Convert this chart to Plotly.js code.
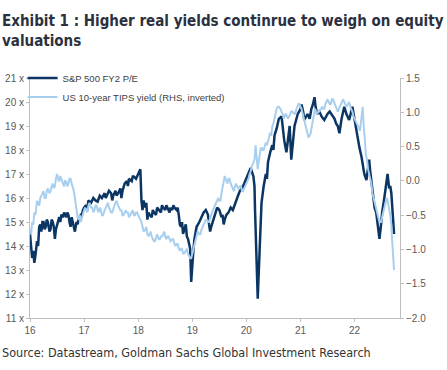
<!DOCTYPE html>
<html>
<head>
<meta charset="utf-8">
<script src="https://cdn.plot.ly/plotly-3.0.1.min.js"></script>
<style>html,body{margin:0;padding:0;background:#fff;}#chart{width:447px;height:370px;}</style>
</head>
<body>
<div id="chart"></div>
<script>
// S&P 500 FY2 P/E (left axis, x multiple)
const peDates = [2016.00,2016.02,2016.04,2016.06,2016.08,2016.10,2016.13,2016.15,2016.17,2016.19,2016.21,2016.23,2016.25,2016.27,2016.29,2016.31,2016.33,2016.36,2016.38,2016.40,2016.42,2016.44,2016.46,2016.48,2016.50,2016.52,2016.54,2016.56,2016.58,2016.61,2016.63,2016.65,2016.67,2016.69,2016.71,2016.73,2016.75,2016.77,2016.79,2016.81,2016.83,2016.86,2016.88,2016.90,2016.92,2016.94,2016.96,2016.98,2017.00,2017.04,2017.06,2017.08,2017.13,2017.17,2017.21,2017.25,2017.27,2017.29,2017.33,2017.38,2017.40,2017.42,2017.46,2017.50,2017.52,2017.54,2017.58,2017.60,2017.63,2017.67,2017.69,2017.71,2017.75,2017.79,2017.81,2017.83,2017.88,2017.90,2017.92,2017.96,2018.00,2018.02,2018.04,2018.06,2018.08,2018.10,2018.13,2018.15,2018.17,2018.19,2018.21,2018.25,2018.27,2018.29,2018.33,2018.35,2018.38,2018.42,2018.44,2018.46,2018.50,2018.52,2018.54,2018.58,2018.60,2018.63,2018.65,2018.67,2018.71,2018.73,2018.75,2018.77,2018.79,2018.81,2018.83,2018.85,2018.88,2018.90,2018.92,2018.94,2018.96,2018.98,2019.00,2019.02,2019.04,2019.06,2019.08,2019.13,2019.17,2019.21,2019.25,2019.29,2019.31,2019.33,2019.35,2019.38,2019.42,2019.46,2019.50,2019.54,2019.56,2019.58,2019.60,2019.63,2019.67,2019.71,2019.75,2019.79,2019.83,2019.88,2019.92,2019.96,2020.00,2020.04,2020.08,2020.13,2020.15,2020.16,2020.18,2020.20,2020.21,2020.22,2020.23,2020.25,2020.28,2020.32,2020.36,2020.38,2020.40,2020.44,2020.48,2020.50,2020.52,2020.56,2020.60,2020.65,2020.68,2020.70,2020.74,2020.77,2020.80,2020.83,2020.86,2020.89,2020.95,2021.00,2021.02,2021.05,2021.07,2021.10,2021.13,2021.17,2021.20,2021.23,2021.26,2021.28,2021.31,2021.35,2021.39,2021.44,2021.47,2021.50,2021.54,2021.59,2021.63,2021.66,2021.69,2021.72,2021.76,2021.81,2021.85,2021.90,2021.93,2021.96,2021.99,2022.03,2022.06,2022.09,2022.13,2022.16,2022.18,2022.22,2022.25,2022.27,2022.29,2022.31,2022.34,2022.37,2022.40,2022.43,2022.46,2022.49,2022.51,2022.55,2022.59,2022.61,2022.64,2022.66,2022.68,2022.70,2022.73];
const peValues = [14.5,13.9,13.5,13.8,13.3,13.6,14.2,14.0,14.8,14.9,14.6,15.0,15.0,14.7,14.8,15.1,15.0,14.6,14.7,15.1,15.0,14.8,14.3,14.7,14.9,15.1,15.2,15.0,15.3,15.2,15.4,15.3,15.2,15.4,15.3,15.0,14.8,15.2,15.0,14.7,14.6,15.0,14.9,15.2,15.1,15.3,15.3,15.5,15.6,15.7,15.5,15.9,15.8,16.0,15.9,15.85,16.0,16.1,16.0,16.2,16.0,16.1,16.3,16.2,15.9,16.1,16.3,16.1,16.2,16.4,16.0,16.3,16.6,16.7,16.5,16.8,16.7,16.9,16.9,16.8,17.0,17.1,17.2,15.9,15.5,15.9,15.6,15.8,15.1,15.4,15.3,15.2,15.5,15.4,15.3,15.6,15.5,15.4,15.7,15.6,15.5,15.7,15.6,15.4,15.6,15.5,15.7,15.6,15.5,15.6,15.3,14.9,14.8,15.0,14.5,14.7,14.9,14.4,14.3,14.1,13.9,12.5,13.4,13.8,14.3,14.5,14.8,15.0,15.2,15.4,15.5,15.3,14.9,14.6,14.8,15.0,15.3,15.6,15.5,15.2,15.3,14.9,15.1,15.3,15.4,15.6,15.5,15.8,16.0,16.3,16.4,16.6,16.8,17.0,17.25,16.9,16.5,15.5,13.5,12.5,11.8,12.4,13.0,14.5,15.8,16.5,17.0,16.8,17.5,17.9,18.2,18.0,18.6,18.9,19.3,19.4,18.8,18.4,17.9,18.6,19.0,17.6,18.5,19.0,19.5,19.7,19.9,19.6,19.25,19.4,19.5,19.3,19.7,19.9,20.2,19.8,19.5,19.6,19.4,19.25,19.4,19.5,19.6,19.4,19.3,19.1,19.0,18.7,19.3,19.8,19.5,19.25,19.5,19.8,19.4,18.8,18.4,18.1,17.7,17.3,17.0,16.75,17.2,17.6,17.1,16.75,16.2,15.6,15.4,14.8,14.3,14.9,15.4,16.0,16.75,17.0,16.4,16.5,16.2,15.4,14.5];

// US 10-year TIPS yield, inverted (right axis, %)
const tipsDates = [2016.00,2016.02,2016.04,2016.06,2016.08,2016.10,2016.13,2016.15,2016.17,2016.19,2016.21,2016.23,2016.25,2016.27,2016.29,2016.31,2016.33,2016.36,2016.38,2016.40,2016.42,2016.44,2016.46,2016.48,2016.50,2016.52,2016.54,2016.56,2016.58,2016.61,2016.63,2016.65,2016.67,2016.69,2016.71,2016.73,2016.75,2016.77,2016.79,2016.81,2016.83,2016.85,2016.86,2016.88,2016.90,2016.92,2016.94,2016.96,2016.98,2017.00,2017.02,2017.04,2017.06,2017.08,2017.10,2017.13,2017.15,2017.17,2017.19,2017.21,2017.23,2017.25,2017.27,2017.29,2017.31,2017.33,2017.35,2017.38,2017.40,2017.42,2017.44,2017.46,2017.48,2017.50,2017.52,2017.54,2017.56,2017.58,2017.60,2017.63,2017.65,2017.67,2017.69,2017.71,2017.73,2017.75,2017.77,2017.79,2017.81,2017.83,2017.85,2017.88,2017.90,2017.92,2017.94,2017.96,2017.98,2018.00,2018.02,2018.04,2018.06,2018.08,2018.10,2018.13,2018.15,2018.17,2018.19,2018.21,2018.23,2018.25,2018.27,2018.29,2018.31,2018.33,2018.35,2018.38,2018.40,2018.42,2018.44,2018.46,2018.48,2018.50,2018.52,2018.54,2018.56,2018.58,2018.60,2018.63,2018.65,2018.67,2018.69,2018.71,2018.73,2018.75,2018.77,2018.79,2018.81,2018.83,2018.85,2018.88,2018.90,2018.92,2018.94,2018.96,2018.98,2019.00,2019.02,2019.04,2019.06,2019.08,2019.10,2019.13,2019.15,2019.17,2019.19,2019.21,2019.23,2019.25,2019.27,2019.29,2019.31,2019.33,2019.35,2019.38,2019.40,2019.42,2019.44,2019.46,2019.48,2019.50,2019.52,2019.54,2019.56,2019.58,2019.60,2019.63,2019.65,2019.67,2019.69,2019.71,2019.73,2019.75,2019.77,2019.79,2019.81,2019.83,2019.85,2019.88,2019.90,2019.92,2019.94,2019.96,2019.98,2020.00,2020.02,2020.04,2020.06,2020.08,2020.10,2020.13,2020.15,2020.17,2020.18,2020.19,2020.21,2020.22,2020.24,2020.26,2020.28,2020.30,2020.32,2020.34,2020.36,2020.38,2020.40,2020.42,2020.44,2020.46,2020.48,2020.50,2020.52,2020.54,2020.56,2020.58,2020.60,2020.63,2020.65,2020.67,2020.69,2020.71,2020.73,2020.75,2020.77,2020.79,2020.81,2020.83,2020.85,2020.88,2020.90,2020.92,2020.94,2020.96,2020.98,2021.00,2021.02,2021.04,2021.06,2021.08,2021.10,2021.13,2021.15,2021.17,2021.19,2021.21,2021.23,2021.25,2021.27,2021.29,2021.31,2021.33,2021.35,2021.38,2021.40,2021.42,2021.44,2021.46,2021.48,2021.50,2021.52,2021.54,2021.56,2021.58,2021.60,2021.63,2021.65,2021.67,2021.69,2021.71,2021.73,2021.75,2021.77,2021.79,2021.81,2021.83,2021.85,2021.88,2021.90,2021.92,2021.94,2021.96,2021.98,2022.00,2022.02,2022.04,2022.06,2022.08,2022.10,2022.12,2022.14,2022.15,2022.17,2022.18,2022.20,2022.21,2022.23,2022.25,2022.27,2022.29,2022.31,2022.33,2022.35,2022.37,2022.39,2022.41,2022.43,2022.45,2022.47,2022.49,2022.51,2022.53,2022.55,2022.56,2022.58,2022.60,2022.62,2022.63,2022.65,2022.66,2022.68,2022.69,2022.71,2022.72,2022.73];
const tipsValues = [-0.71,-0.78,-0.60,-0.64,-0.46,-0.50,-0.29,-0.32,-0.36,-0.25,-0.22,-0.18,-0.15,-0.25,-0.25,-0.15,-0.11,-0.18,-0.15,-0.08,-0.04,-0.11,-0.08,0.03,0.10,0.03,-0.01,0.07,0.03,-0.04,-0.08,0.00,-0.01,-0.08,-0.04,0.03,0.03,-0.04,-0.08,-0.15,-0.25,-0.39,-0.46,-0.53,-0.57,-0.50,-0.60,-0.53,-0.50,-0.43,-0.39,-0.43,-0.46,-0.36,-0.32,-0.39,-0.39,-0.46,-0.43,-0.36,-0.36,-0.43,-0.46,-0.39,-0.43,-0.50,-0.50,-0.43,-0.39,-0.36,-0.32,-0.39,-0.43,-0.46,-0.46,-0.39,-0.36,-0.32,-0.29,-0.36,-0.39,-0.43,-0.43,-0.50,-0.50,-0.46,-0.43,-0.46,-0.46,-0.53,-0.50,-0.46,-0.43,-0.50,-0.50,-0.46,-0.46,-0.50,-0.53,-0.57,-0.60,-0.67,-0.74,-0.71,-0.67,-0.78,-0.81,-0.78,-0.74,-0.81,-0.85,-0.88,-0.88,-0.81,-0.78,-0.85,-0.85,-0.81,-0.81,-0.78,-0.74,-0.81,-0.85,-0.81,-0.81,-0.85,-0.88,-0.85,-0.85,-0.92,-0.95,-0.92,-0.92,-0.99,-1.02,-0.99,-0.99,-1.06,-1.06,-1.02,-0.99,-1.06,-1.09,-1.13,-1.13,-1.06,-1.02,-0.95,-0.88,-0.81,-0.74,-0.78,-0.78,-0.71,-0.67,-0.64,-0.60,-0.57,-0.57,-0.60,-0.60,-0.53,-0.50,-0.43,-0.39,-0.36,-0.32,-0.29,-0.25,-0.29,-0.29,-0.18,-0.08,0.03,0.07,0.00,-0.04,0.03,0.03,-0.04,-0.08,-0.11,-0.15,-0.08,-0.04,-0.08,-0.11,-0.08,-0.08,-0.15,-0.15,-0.11,-0.08,-0.04,-0.01,0.03,0.10,0.14,0.21,0.28,0.31,0.52,0.45,0.31,0.17,0.24,0.38,0.45,0.49,0.45,0.45,0.52,0.56,0.52,0.59,0.63,0.70,0.66,0.80,0.84,0.94,0.98,1.05,1.08,1.08,1.05,1.01,0.98,0.91,0.94,0.98,0.94,0.91,0.94,0.98,1.01,1.01,0.98,0.98,1.05,1.08,1.12,1.12,1.08,1.05,0.98,0.91,0.84,0.77,0.70,0.63,0.66,0.70,0.80,0.87,0.98,1.05,1.01,0.98,1.01,1.01,1.05,1.08,1.05,1.05,1.12,1.15,1.19,1.15,1.12,1.12,1.19,1.19,1.12,1.08,1.05,1.01,1.05,1.08,1.12,1.15,1.19,1.15,1.12,1.08,1.12,1.15,1.08,1.05,1.01,0.94,0.91,0.87,0.84,0.80,0.77,0.73,0.84,0.98,1.08,0.80,0.63,0.49,0.38,0.31,0.17,0.10,0.03,-0.04,-0.18,-0.25,-0.32,-0.39,-0.46,-0.50,-0.57,-0.60,-0.60,-0.53,-0.46,-0.39,-0.32,-0.29,-0.25,-0.36,-0.39,-0.46,-0.50,-0.64,-0.81,-1.02,-1.20,-1.30];

const yearTicks = [2016,2017,2018,2019,2020,2021,2022];
const yearLabels = ['16','17','18','19','20','21','22'];
const names = ['S&P 500 FY2 P/E','US 10-year TIPS yield (RHS, inverted)'];

const titleText = '<b>Exhibit 1 : Higher real yields continrue to weigh on equity<br>valuations</b>';
const sourceText = 'Source: Datastream, Goldman Sachs Global Investment Research';

const narrow = '"DejaVu Sans Condensed", "Liberation Sans Narrow", Roboto, sans-serif';
const tickFont = {family: '"Liberation Sans", Arial, sans-serif', size: 10, color: '#595959'};

const traces = [
  {x: tipsDates, y: tipsValues, yaxis: 'y2', type: 'scatter', mode: 'lines', name: names[1],
   line: {color: '#a9cfee', width: 2}},
  {x: peDates, y: peValues, yaxis: 'y', type: 'scatter', mode: 'lines', name: names[0],
   line: {color: '#0b3563', width: 2.5}}
];

const layout = {
  width: 447, height: 370,
  margin: {l: 30, r: 47, t: 78, b: 52},
  paper_bgcolor: '#fff', plot_bgcolor: '#fff',
  showlegend: true,
  legend: {x: -0.02, y: 1.06, xanchor: 'left', yanchor: 'top', traceorder: 'reversed',
    bgcolor: 'rgba(0,0,0,0)', font: {family: '"Liberation Sans", Arial, sans-serif', size: 9.5, color: '#404040'},
    itemwidth: 30, tracegroupgap: 0},
  xaxis: {range: [2016, 2022.84], tickvals: yearTicks, ticktext: yearLabels, showgrid: false, zeroline: false,
    showline: true, linecolor: '#bfbfbf', linewidth: 1, ticks: 'outside', ticklen: 3, tickcolor: '#bfbfbf',
    tickfont: tickFont},
  yaxis: {range: [11, 21], dtick: 1, ticksuffix: ' x', showgrid: false, zeroline: false,
    showline: true, linecolor: '#bfbfbf', linewidth: 1, ticks: 'outside', ticklen: 3, tickcolor: '#bfbfbf',
    tickfont: tickFont},
  yaxis2: {range: [-2, 1.5], dtick: 0.5, tickformat: '.1f', overlaying: 'y', side: 'right', showgrid: false, zeroline: false,
    showline: true, linecolor: '#bfbfbf', linewidth: 1, ticks: 'outside', ticklen: 3, tickcolor: '#bfbfbf',
    tickfont: tickFont},
  annotations: [
    {text: titleText, xref: 'paper', yref: 'paper', x: -0.081, y: 1.285, xanchor: 'left', yanchor: 'top', align: 'left',
     showarrow: false, font: {family: narrow, size: 15, color: '#2b3140'}},
    {text: sourceText, xref: 'paper', yref: 'paper', x: -0.081, y: -0.105, xanchor: 'left', yanchor: 'top', showarrow: false,
     font: {family: narrow, size: 12.5, color: '#333'}}
  ]
};

Plotly.newPlot('chart', traces, layout, {displayModeBar: false, staticPlot: true});
</script>
</body>
</html>
